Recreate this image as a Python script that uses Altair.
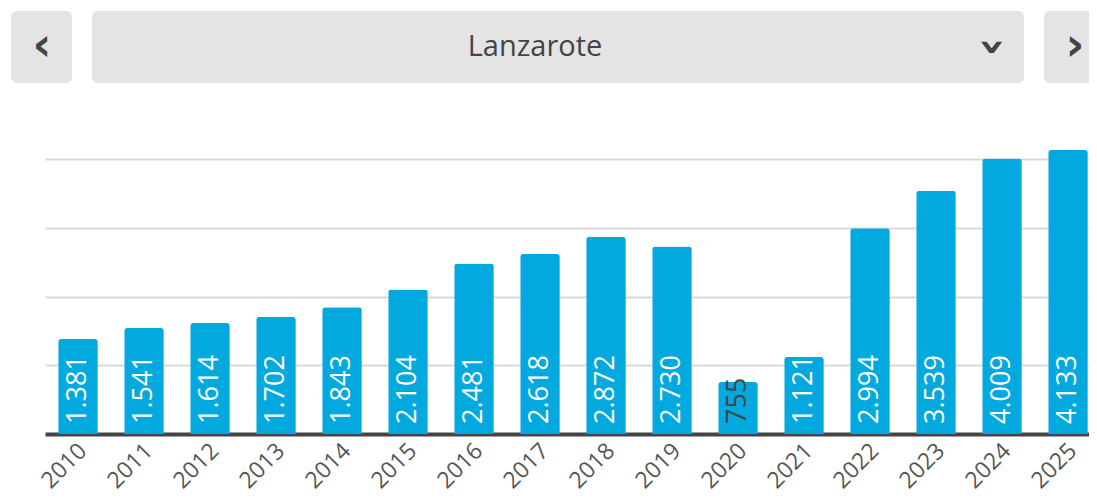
import altair as alt
import pandas as pd

years = ["2010", "2011", "2012", "2013", "2014", "2015", "2016", "2017",
         "2018", "2019", "2020", "2021", "2022", "2023", "2024", "2025"]
values = [1381, 1541, 1614, 1702, 1843, 2104, 2481, 2618,
          2872, 2730, 755, 1121, 2994, 3539, 4009, 4133]
labels = ["1.381", "1.541", "1.614", "1.702", "1.843", "2.104", "2.481", "2.618",
          "2.872", "2.730", "755", "1.121", "2.994", "3.539", "4.009", "4.133"]
island = "Lanzarote"

df = pd.DataFrame({"year": years, "value": values, "label": labels})
one = pd.DataFrame({"k": [0]})

BLUE = "#01a9df"
FONT = "Open Sans"

x = alt.X("year:N", sort=years, title=None,
          scale=alt.Scale(range=[5, 1061], paddingInner=0.4, paddingOuter=0.2),
          axis=alt.Axis(labelAngle=-45, labelAlign="right", labelBaseline="middle",
                        labelFontSize=23, labelFont=FONT, labelColor="#555555",
                        labelPadding=13, labelOffset=5, ticks=False,
                        domainColor="#444444", domainWidth=4, grid=False))
y = alt.Y("value:Q", title=None, scale=alt.Scale(domain=[0, 6200], nice=False),
          axis=alt.Axis(values=[1000, 2000, 3000, 4000], labels=False, ticks=False,
                        domain=False, grid=True, gridColor="#d9d9d9", gridWidth=2))

bars = alt.Chart(df).mark_bar(color=BLUE, cornerRadiusTopLeft=3,
                              cornerRadiusTopRight=3).encode(x=x, y=y)

text = alt.Chart(df).mark_text(angle=270, align="left", baseline="middle",
                               font=FONT, fontSize=27).encode(
    x=alt.X("year:N", sort=years),
    y=alt.value(416),
    text="label:N",
    color=alt.condition("datum.value < 1000", alt.value("#444444"), alt.value("white")),
)

def btn(x0, x1):
    return alt.Chart(one).mark_rect(color="#e4e4e4", cornerRadius=6).encode(
        x=alt.value(x0), x2=alt.value(x1), y=alt.value(3), y2=alt.value(75))

left_btn = btn(-29, 32)
mid_btn = btn(52, 984)
right_btn = btn(1004, 1080)

title = alt.Chart(one).mark_text(text=island, font=FONT, fontSize=29, color="#444444",
                                 align="center", baseline="middle").encode(
    x=alt.value(495), y=alt.value(39))

def chevron(ch, xp, yp, ang=0):
    return alt.Chart(one).mark_text(text=ch, font="DejaVu Sans", fontWeight="bold",
                                    fontSize=46, color="#444444", align="center",
                                    baseline="middle", angle=ang).encode(
        x=alt.value(xp), y=alt.value(yp))

ch_left = chevron("‹", 2, 38)
ch_right = chevron("›", 1035, 38)
ch_down = chevron("›", 952, 39, 90)

chart = alt.layer(bars, text, left_btn, mid_btn, right_btn, title,
                  ch_left, ch_right, ch_down).properties(
    width=1049, height=426,
    autosize=alt.AutoSizeParams(type="none"),
    padding={"left": 32, "top": 0, "right": 0, "bottom": 60},
).configure_view(stroke=None)

chart.save("out.html", embed_options={"renderer": "svg", "actions": False})
